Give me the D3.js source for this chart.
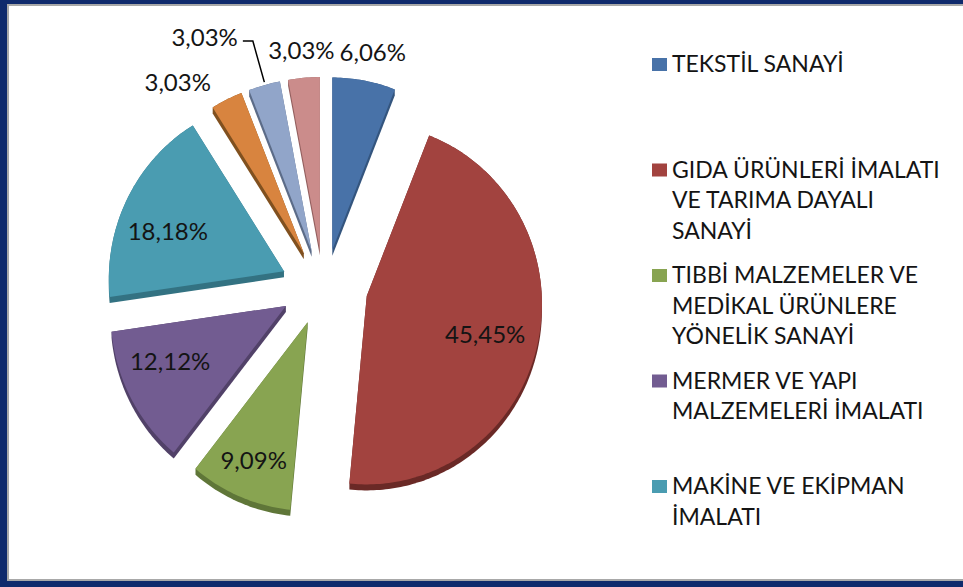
<!DOCTYPE html>
<html>
<head>
<meta charset="utf-8">
<script src="https://cdn.jsdelivr.net/npm/d3@7"></script>
<style>
  body { margin: 0; background: #fff; }
  svg { display: block; }
  text { font-family: Lato, "Open Sans", sans-serif; fill: #141414; }
</style>
</head>
<body>
<div id="chart"></div>
<script>
// slice data, clockwise from 12 o'clock
const categories = [
    "TEKSTİL SANAYİ",
    "GIDA ÜRÜNLERİ İMALATI\nVE TARIMA DAYALI\nSANAYİ",
    "TIBBİ MALZEMELER VE\nMEDİKAL ÜRÜNLERE\nYÖNELİK SANAYİ",
    "MERMER VE YAPI\nMALZEMELERİ İMALATI",
    "MAKİNE VE EKİPMAN\nİMALATI",
    "DİĞER 1",
    "DİĞER 2",
    "DİĞER 3"
];
const values = [6.06, 45.45, 9.09, 12.12, 18.18, 3.03, 3.03, 3.03];
const colors = ["#4872a8", "#a2433f", "#88a451", "#725c91", "#4a9cb1", "#d8843f", "#91a5c9", "#cb8c8b"];
const sideColors = ["#34557e", "#6a2926", "#5f7638", "#514168", "#337282", "#80501f", "#5c6c88", "#935f5e"];

// label placement: [radius factor, angle shift in degrees]
const labelPlace = [[1.12, 1], [0.71, 4], [0.83, 0], [0.73, 5], [0.70, -6], [1.19, -10], [1.33, -11], [1.11, 0]];

const width = 963;
const height = 587;
const cx = 324, cy = 287;
const rx = 175, ry = 180;
const persp = 0.045;
const depth = 6;
const explode = 44, tilt = 0.86;

const locale = d3.formatLocale({decimal: ",", thousands: ".", grouping: [3], currency: ["", ""]});
const fmt = locale.format(".2f");

let svg = d3.select("#chart")
    .append("svg")
    .attr("width", width)
    .attr("height", height);

// frame
svg.append("rect").attr("width", width).attr("height", height).attr("fill", "#0f2a6c");
svg.append("rect").attr("x", 7).attr("y", 4).attr("width", width).attr("height", 577).attr("fill", "#a8a8a8");
svg.append("rect").attr("x", 9).attr("y", 6).attr("width", width).attr("height", 573).attr("fill", "#ffffff");

function proj(u, v) {
    const s = 1 / (1 - persp * v);
    return [rx * u * s, ry * v * s];
}

const pie = d3.pie().sort(null).value(function(d) { return d; });
const arcs = pie(values);

arcs.forEach(function(a, i) {
    const mid = (a.startAngle + a.endAngle) / 2;
    a.mid = mid;
    a.ax = cx + explode * Math.sin(mid);
    a.ay = cy - explode * tilt * Math.cos(mid);
    const pts = [[a.ax, a.ay]];
    const n = Math.max(8, Math.ceil((a.endAngle - a.startAngle) * 60));
    for (let k = 0; k <= n; k++) {
        const t = a.startAngle + (a.endAngle - a.startAngle) * k / n;
        const p = proj(Math.sin(t), -Math.cos(t));
        pts.push([a.ax + p[0], a.ay + p[1]]);
    }
    a.pts = pts;
    a.hull = d3.polygonHull(pts.concat(pts.map(function(p) { return [p[0], p[1] + depth]; })));
});

const line = d3.line().curve(d3.curveLinearClosed);

// sides first, then top faces
svg.selectAll("path.side")
    .data(arcs)
    .enter()
    .append("path")
    .attr("class", "side")
    .attr("d", function(d) { return line(d.hull); })
    .attr("fill", function(d, i) { return sideColors[i]; });

svg.selectAll("path.top")
    .data(arcs)
    .enter()
    .append("path")
    .attr("class", "top")
    .attr("d", function(d) { return line(d.pts); })
    .attr("fill", function(d, i) { return colors[i]; });

// data labels
arcs.forEach(function(a, i) {
    const f = labelPlace[i][0];
    const ang = a.mid + labelPlace[i][1] * Math.PI / 180;
    const lx = a.ax + rx * f * Math.sin(ang);
    const ly = a.ay - ry * f * Math.cos(ang);
    const t = svg.append("text")
        .attr("x", lx)
        .attr("y", ly)
        .attr("dy", "0.35em")
        .attr("text-anchor", "middle")
        .style("font-size", "24px")
        .text(fmt(values[i]) + "%");

    if (f > 1.25) {
        const bb = t.node().getBBox();
        const p = proj(Math.sin(a.mid), -Math.cos(a.mid));
        const x0 = bb.x + bb.width + 5;
        const y0 = ly + 3;
        svg.append("polyline")
            .attr("points", [[x0, y0], [x0 + 10, y0], [a.ax + p[0], a.ay + p[1] - 3]].join(" "))
            .attr("fill", "none")
            .attr("stroke", "#000")
            .attr("stroke-width", 1.5);
    }
});

// legend (only entries that fit are shown)
const legendX = 652, legendY = 72, legendStep = 105.5, lineH = 30.5;
categories.forEach(function(c, i) {
    const by = legendY + i * legendStep;
    if (by > height - 30) return;
    svg.append("rect")
        .attr("x", legendX)
        .attr("y", by - 14)
        .attr("width", 15)
        .attr("height", 13)
        .attr("fill", colors[i]);
    const t = svg.append("text")
        .attr("x", legendX + 20)
        .attr("y", by)
        .style("font-size", "23px");
    c.split("\n").forEach(function(s, j) {
        t.append("tspan")
            .attr("x", legendX + 20)
            .attr("y", by + j * lineH)
            .text(s);
    });
});
</script>
</body>
</html>
